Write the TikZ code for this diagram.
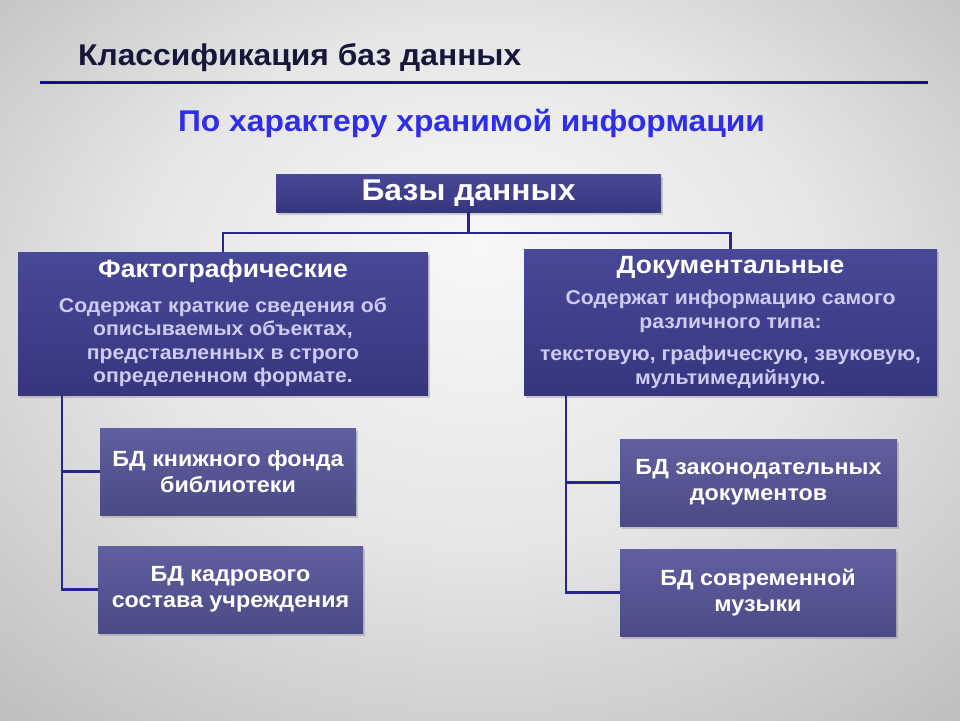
\documentclass[tikz,border=0pt]{standalone}
\usepackage{fontspec}
\setmainfont[FakeStretch=1.06]{Liberation Sans}
\usetikzlibrary{shadows}

\definecolor{navy}{HTML}{26268C}
\definecolor{rulenavy}{HTML}{10108A}
\definecolor{titlenavy}{HTML}{17173C}
\definecolor{subblue}{HTML}{2E2EE8}
\definecolor{boxtop}{HTML}{484898}
\definecolor{boxbot}{HTML}{36367F}
\definecolor{smalltop}{HTML}{6060A0}
\definecolor{smallbot}{HTML}{4A4A86}
\definecolor{desctext}{HTML}{CCCCF0}

\pgfdeclareradialshading{slidebg}{\pgfpoint{0bp}{8bp}}{%
  color(0bp)=(white!97!black); color(18bp)=(white!90!black);
  color(50bp)=(white!64!black)}

\begin{document}
\begin{tikzpicture}[x=1pt, y=-1pt,
    bigbox/.style={top color=boxtop, bottom color=boxbot, draw=none,
      drop shadow={shadow xshift=2pt, shadow yshift=-3pt, opacity=0.35},
      text=white, align=center, inner sep=0pt},
    smallbox/.style={top color=smalltop, bottom color=smallbot, draw=none,
      drop shadow={shadow xshift=2pt, shadow yshift=-3pt, opacity=0.35},
      text=white, align=center, inner sep=0pt,
      font=\fontsize{22}{26}\selectfont\bfseries},
    link/.style={draw=navy, line width=2.6pt}]
    % slide background
    \useasboundingbox (0,0) rectangle (960,720);
    \fill[shading=slidebg] (0,0) rectangle (960,720);
    
    % headings
    \node[anchor=base west, text=titlenavy, inner sep=0pt,
      font=\fontsize{30}{34}\selectfont\bfseries] (title) at (78,65)
      {Классификация баз данных};
    \draw[rulenavy, line width=3.5pt] (40,82.5) -- (928,82.5);
    \node[anchor=base, text=subblue, inner sep=0pt,
      font=\fontsize{30}{34}\selectfont\bfseries] (sub) at (471.5,131)
      {По характеру хранимой информации};
    
    % root
    \node[bigbox, minimum width=385pt, minimum height=38pt,
      font=\fontsize{30}{34}\selectfont\bfseries] (db) at (468.5,193)
      {Базы данных};
    
    % two kinds
    \node[bigbox, minimum width=410pt, minimum height=143pt,
      font=\fontsize{20}{23.5}\selectfont\bfseries] (fact) at (223,323.5)
      {{\fontsize{25}{28}\selectfont Фактографические}\\[11pt]
       \color{desctext}Содержат краткие сведения об\\
       \color{desctext}описываемых объектах,\\
       \color{desctext}представленных в строго\\
       \color{desctext}определенном формате.};
    \node[bigbox, minimum width=413pt, minimum height=146pt,
      font=\fontsize{20}{23.5}\selectfont\bfseries] (doc) at (730.5,322)
      {{\fontsize{25}{28}\selectfont Документальные}\\[8pt]
       \color{desctext}Содержат информацию самого\\
       \color{desctext}различного типа:\\[9pt]
       \color{desctext}текстовую, графическую, звуковую,\\
       \color{desctext}мультимедийную.};
    
    % examples
    \node[smallbox, minimum width=256pt, minimum height=87pt] (book)
      at (228,471.5) {БД книжного фонда\\библиотеки};
    \node[smallbox, minimum width=265pt, minimum height=87pt] (staff)
      at (230.5,589.5) {БД кадрового\\состава учреждения};
    \node[smallbox, minimum width=277pt, minimum height=87pt] (law)
      at (758.5,482.5) {БД законодательных\\документов};
    \node[smallbox, minimum width=276pt, minimum height=87pt] (music)
      at (758,592.5) {БД современной\\музыки};
    
    % connectors
    \coordinate (split) at (468.5,233);
    \coordinate (lstem) at (62,395);
    \coordinate (rstem) at (566,395);
    \draw[link] (db.south) -- (split);
    \draw[link] (split) -| (fact.north);
    \draw[link] (split) -| (doc.north);
    \draw[link] (lstem) |- (book.west);
    \draw[link] (lstem) |- (staff.west);
    \draw[link] (rstem) |- (law.west);
    \draw[link] (rstem) |- (music.west);
\end{tikzpicture}
\end{document}
